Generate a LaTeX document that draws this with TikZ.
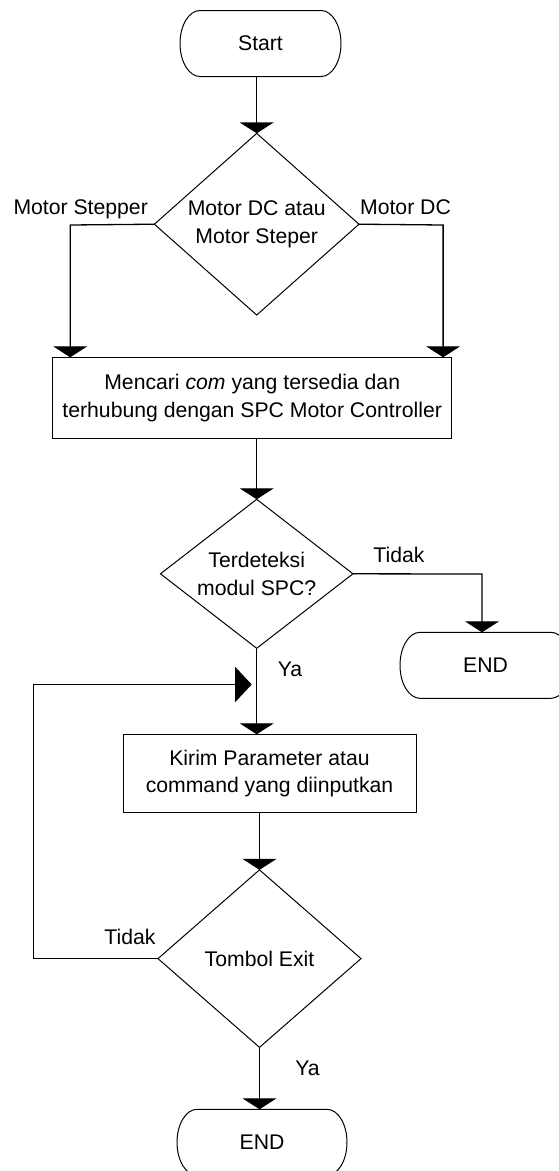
\documentclass[tikz,border=0pt]{standalone}
\usepackage{fontspec}
\setmainfont{Liberation Sans}
\usetikzlibrary{arrows.meta,shapes.geometric}
\newcommand\drawterm[1]{\draw[line width=1pt] ([xshift=20pt]#1.north west) -- ([xshift=-20pt]#1.north east) arc[start angle=90,end angle=-90,x radius=20pt,y radius=33pt] -- ([xshift=20pt]#1.south west) arc[start angle=270,end angle=90,x radius=20pt,y radius=33pt] -- cycle;}
\tikzset{
  base/.style={font=\fontsize{21.2}{27.7}\selectfont, inner sep=0pt, outer sep=0pt},
  term/.style={base, minimum width=#1, minimum height=66pt},
  proc/.style={base, draw, line width=1pt, align=center},
  dia/.style={base, draw, diamond, aspect=1.3, line width=1pt, align=center},
  lbl/.style={base, text height=15.2pt, text depth=0pt},
  flow/.style={line width=1.3pt, -{Triangle[width=34pt,length=11pt]}},
  loopflow/.style={line width=1.3pt, -{Triangle[width=35pt,length=16.5pt]}}
}
\begin{document}
\begin{tikzpicture}[x=1pt,y=-1pt]
\useasboundingbox (0,0) rectangle (559,1171);
\fill[white] (0,0) rectangle (559,1171);
% terminals
\node[term=161pt] (start) at (260.5,43.5) {Start};
\drawterm{start}
\node[term=171pt] (end2) at (485.5,665.3) {END};
\drawterm{end2}
\node[term=170pt] (end3) at (262,1142.3) {END};
\drawterm{end3}
% decisions
\node[dia, minimum width=204.6pt, minimum height=181.7pt] (d1) at (256.7,224.2) {Motor DC atau\\Motor Steper};
\node[dia, minimum width=192.5pt, minimum height=149pt] (d2) at (256.7,573.8) {Terdeteksi\\modul SPC?};
\node[dia, minimum width=203pt, minimum height=177.5pt] (d3) at (259.5,958.6) {Tombol Exit};
% processes
\node[proc, minimum width=399pt, minimum height=81pt] (box1) at (252.2,397.8) {Mencari \textit{com} yang tersedia dan\\terhubung dengan SPC Motor Controller};
\node[proc, minimum width=293pt, minimum height=78.4pt] (box2) at (269.5,773.5) {Kirim Parameter atau\\command yang diinputkan};
% labels
\node[lbl] (lms) at (80.7,207) {Motor Stepper};
\node[lbl] (lmdc) at (405.5,207) {Motor DC};
\node[lbl] (lt1) at (399,555) {Tidak};
\node[lbl] (ly1) at (290,669.3) {Ya};
\node[lbl] (lt2) at (130,936.7) {Tidak};
\node[lbl] (ly2) at (307.5,1068.3) {Ya};
% coordinates
\coordinate (lbend) at (70.2,225);
\coordinate (rbend) at (443.1,225);
\coordinate (tbend) at (482,574);
\coordinate (lc) at (33.5,684.5);
\coordinate (loopin) at (251.7,684.5);
% connectors
\draw[flow] (d1.north |- start.south) -- (d1.north);
\draw[flow] (d1.west) -- (lbend) -- (lbend |- box1.north);
\draw[flow] (d1.east) -- (rbend) -- (rbend |- box1.north);
\draw[flow] (d2.north |- box1.south) -- (d2.north);
\draw[flow] (d2.east) -- (tbend) -- (tbend |- end2.north);
\draw[flow] (d2.south) -- (d2.south |- box2.north);
\draw[flow] (d3.north |- box2.south) -- (d3.north);
\draw[flow] (d3.south) -- (d3.south |- end3.north);
\draw[loopflow] (d3.west) -| (lc) -- (loopin);
\end{tikzpicture}
\end{document}
